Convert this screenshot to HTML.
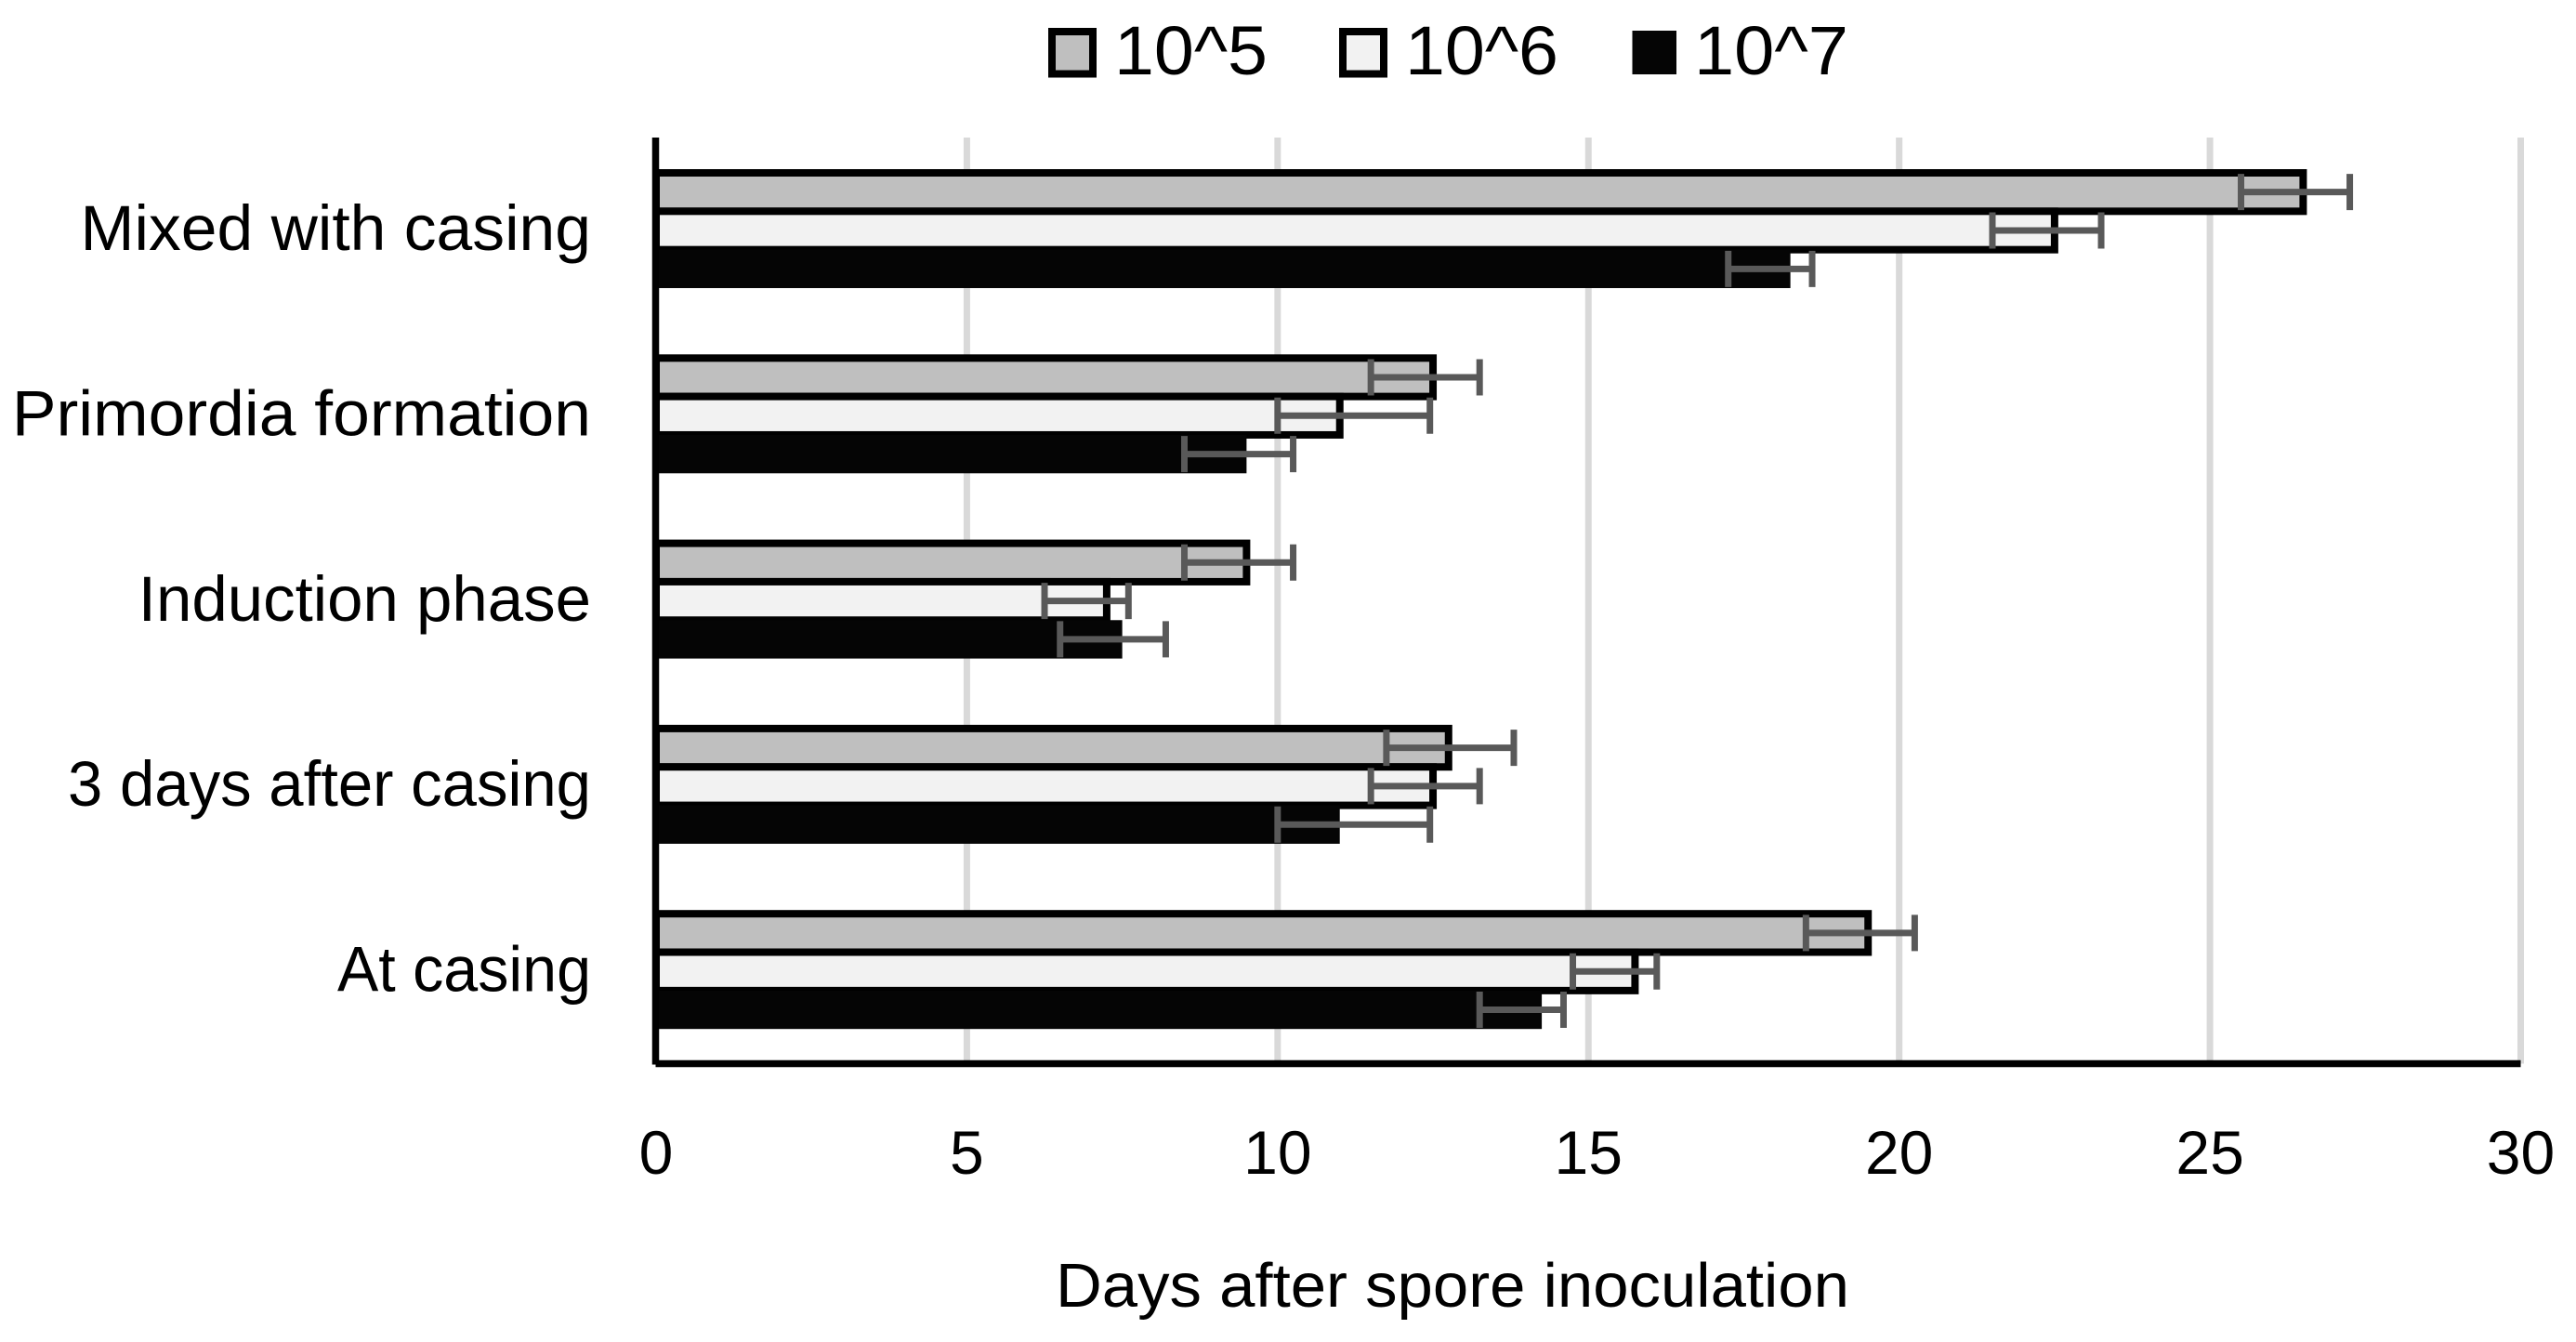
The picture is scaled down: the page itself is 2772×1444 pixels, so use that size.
<!DOCTYPE html>
<html lang="en">
<head>
<meta charset="utf-8">
<title>Days after spore inoculation</title>
<style>
html,body{margin:0;padding:0;background:#fff;}
svg{display:block;}
text{font-family:"Liberation Sans",sans-serif;fill:#000;}
</style>
</head>
<body>
<svg id="chart" xmlns="http://www.w3.org/2000/svg" width="2772" height="1444" viewBox="0 0 2772 1444">
<rect x="0" y="0" width="2772" height="1444" fill="#ffffff"/>
<g id="grid"></g>
<g id="bars"></g>
<g id="errs"></g>
<g id="axes"></g>
<g id="ylabels"></g>
<g id="xlabels"></g>
<text x="1563" y="1406" font-size="67" text-anchor="middle" textLength="854" lengthAdjust="spacingAndGlyphs">Days after spore inoculation</text>
<g>
<g>
<rect x="1132" y="34" width="44" height="45.5" fill="#bfbfbf" stroke="#000" stroke-width="8"/>
<text x="1199" y="80" font-size="74" textLength="165" lengthAdjust="spacingAndGlyphs">10^5</text>
</g>
<g>
<rect x="1445" y="34" width="44" height="45.5" fill="#f2f2f2" stroke="#000" stroke-width="8"/>
<text x="1512" y="80" font-size="74" textLength="165" lengthAdjust="spacingAndGlyphs">10^6</text>
</g>
<g>
<rect x="1756.5" y="33" width="47.5" height="47" fill="#050505"/>
<text x="1823" y="80" font-size="74" textLength="166" lengthAdjust="spacingAndGlyphs">10^7</text>
</g>
</g>
</svg>
<script>
const categories = ["Mixed with casing", "Primordia formation", "Induction phase", "3 days after casing", "At casing"];
const seriesNames = ["10^5", "10^6", "10^7"];
const xTicks = [0, 5, 10, 15, 20, 25, 30];
const values105 = [26.5, 12.5, 9.5, 12.75, 19.5];
const values106 = [22.5, 11, 7.25, 12.5, 15.75];
const values107 = [18.25, 9.5, 7.5, 11, 14.25];
const errLow105 = [25.5, 11.5, 8.5, 11.75, 18.5];
const errHigh105 = [27.25, 13.25, 10.25, 13.8, 20.25];
const errLow106 = [21.5, 10, 6.25, 11.5, 14.75];
const errHigh106 = [23.25, 12.45, 7.6, 13.25, 16.1];
const errLow107 = [17.25, 8.5, 6.5, 10, 13.25];
const errHigh107 = [18.6, 10.25, 8.2, 12.45, 14.6];

const NS = "http://www.w3.org/2000/svg";
const plotLeft = 706, plotRight = 2712.5, plotTop = 148, plotBottom = 1144.5;
const xMax = 30;
const bandH = (plotBottom - plotTop) / categories.length;
const barOffset = 38, barH = 41.33;
function xScale(v) { return plotLeft + (v / xMax) * (plotRight - plotLeft); }
function bandTop(i) { return plotTop + i * bandH; }
function barTop(i, s) { return bandTop(i) + barOffset + s * barH; }
function make(tag, attrs, parent) {
  const el = document.createElementNS(NS, tag);
  for (const k in attrs) el.setAttribute(k, attrs[k]);
  parent.appendChild(el);
  return el;
}
const gridG = document.getElementById("grid");
const barsG = document.getElementById("bars");
const errsG = document.getElementById("errs");
const axesG = document.getElementById("axes");
const ylabG = document.getElementById("ylabels");
const xlabG = document.getElementById("xlabels");

xTicks.forEach(function (t) {
  if (t !== 0) {
    const gl = make("line", {x1: xScale(t), x2: xScale(t), y1: plotTop, y2: plotBottom, stroke: "#d9d9d9", "stroke-width": 7}, gridG);
    
    
  }
  const lab = make("text", {x: xScale(t), y: 1263, "font-size": 66, "text-anchor": "middle"}, xlabG);
  
  
  lab.textContent = String(t);
});

const seriesValues = [values105, values106, values107];
const seriesLow = [errLow105, errLow106, errLow107];
const seriesHigh = [errHigh105, errHigh106, errHigh107];
const fills = ["#bfbfbf", "#f2f2f2", "#050505"];
const strokes = ["#000000", "#000000", "none"];

function drawCategories() {
  const fitFactors = [1.009, 1.035, 1.0, 0.972, 0.962];
  categories.forEach(function (cat, i) {
    const lab = make("text", {x: 636, y: bandTop(i) + bandH / 2 + 21.5, "font-size": 69, "text-anchor": "end"}, ylabG);
    
    
    lab.textContent = cat;
    const natural = lab.getComputedTextLength();
    lab.setAttribute('textLength', natural * fitFactors[i]);
    lab.setAttribute('lengthAdjust', 'spacingAndGlyphs');
    seriesValues.forEach(function (vals, s) {
      const y = barTop(i, s);
      const r = make("rect", {x: plotLeft, y: y, width: xScale(vals[i]) - plotLeft, height: barH, fill: fills[s], stroke: strokes[s], "stroke-width": 8}, barsG);
      
      
    });
  });
}
drawCategories();

categories.forEach(function (cat, i) {
  seriesValues.forEach(function (vals, s) {
    const cy = barTop(i, s) + barH / 2;
    const x1 = xScale(seriesLow[s][i]);
    const x2 = xScale(seriesHigh[s][i]);
    const capH = 19.5;
    const eb = make("path", {d: "M" + x1 + " " + (cy - capH) + "V" + (cy + capH) + "M" + x1 + " " + cy + "H" + x2 + "M" + x2 + " " + (cy - capH) + "V" + (cy + capH), stroke: "#595959", "stroke-width": 7, fill: "none"}, errsG);
    
    
  });
});

const yAxis = make("line", {x1: 705.5, x2: 705.5, y1: plotTop, y2: plotBottom + 1, stroke: "#000", "stroke-width": 7.5}, axesG);


const xAxis = make("line", {x1: 705.5, x2: plotRight, y1: plotBottom, y2: plotBottom, stroke: "#000", "stroke-width": 7.5}, axesG);


</script>
</body>
</html>
